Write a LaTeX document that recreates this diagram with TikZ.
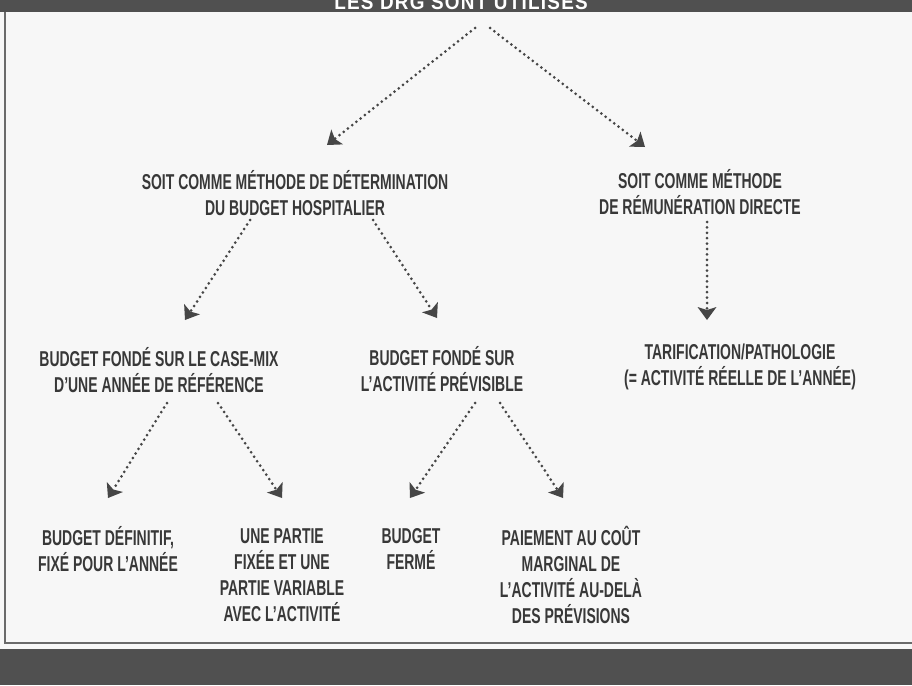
\documentclass[tikz,border=0pt]{standalone}
\usepackage{fontspec}
\setmainfont{Liberation Sans Bold}[FakeStretch=0.65]
\newfontfamily\titlefont{Liberation Sans Bold}[FakeStretch=0.9, LetterSpace=6]
\usetikzlibrary{arrows.meta,calc}
\definecolor{txt}{HTML}{383838}
\definecolor{ln}{HTML}{464646}
\definecolor{bg}{HTML}{F7F7F7}
\definecolor{bar}{HTML}{505050}
\definecolor{frm}{HTML}{6A6A6A}
\begin{document}
\begin{tikzpicture}[x=1pt,y=-1pt,
  lbl/.style={align=center,inner sep=0pt,font=\fontsize{21.5}{26}\selectfont,text=txt},
  arr/.style={draw=ln, line width=3pt, dash pattern=on 0pt off 5.4pt, line cap=round,
    -{Stealth[length=13pt,width=19pt,inset=3pt,line width=0pt,fill=ln]}}]
\useasboundingbox (0,0) rectangle (912,685);
\fill[bg] (0,0) rectangle (912,685);
\fill[bar] (0,0) rectangle (912,12);
\fill[bar] (0,649) rectangle (912,685);
\draw[frm, line width=1.5pt] (5,12) -- (5,643) -- (912,643);
\node[anchor=base, text=white, inner sep=0pt, font=\titlefont\fontsize{21}{21}\selectfont] (title) at (461,10) {LES DRG SONT UTILISÉS};

\node[lbl] (A) at (295,193.5) {SOIT COMME MÉTHODE DE DÉTERMINATION\\DU BUDGET HOSPITALIER};
\node[lbl] (B) at (700,192) {SOIT COMME MÉTHODE\\DE RÉMUNÉRATION DIRECTE};
\node[lbl] (C) at (159,370) {BUDGET FONDÉ SUR LE CASE-MIX\\D'UNE ANNÉE DE RÉFÉRENCE};
\node[lbl] (D) at (442,369) {BUDGET FONDÉ SUR\\L'ACTIVITÉ PRÉVISIBLE};
\node[lbl] (I) at (740,367) {TARIFICATION/PATHOLOGIE\\(= ACTIVITÉ RÉELLE DE L'ANNÉE)};
\node[lbl] (E) at (108,549) {BUDGET DÉFINITIF,\\FIXÉ POUR L'ANNÉE};
\node[lbl] (F) at (282,575) {UNE PARTIE\\FIXÉE ET UNE\\PARTIE VARIABLE\\AVEC L'ACTIVITÉ};
\node[lbl] (G) at (411,549) {BUDGET\\FERMÉ};
\node[lbl] (H) at (571,575) {PAIEMENT AU COÛT\\MARGINAL DE\\L'ACTIVITÉ AU-DELÀ\\DES PRÉVISIONS};

\coordinate (ta) at (475,28);
\coordinate (tb) at (490,28);
\draw[arr] (ta) -- ($(A.center)+(32,-48.5)$);
\draw[arr] (tb) -- ($(B.center)+(-55,-45)$);
\draw[arr] ($(A.center)+(-45,26.5)$) -- ($(C.center)+(26,-50)$);
\draw[arr] ($(A.center)+(78,26.5)$) -- ($(D.center)+(-5,-51)$);
\draw[arr] ($(B.center)+(7,30)$) -- ($(I.center)+(-33,-47)$);
\draw[arr] ($(C.center)+(8,33)$) -- ($(E.center)+(0,-51)$);
\draw[arr] ($(C.center)+(59,33)$) -- ($(F.center)+(0,-77)$);
\draw[arr] ($(D.center)+(33,34)$) -- ($(G.center)+(-1,-51)$);
\draw[arr] ($(D.center)+(58,34)$) -- ($(H.center)+(-8,-77)$);
\end{tikzpicture}
\end{document}
